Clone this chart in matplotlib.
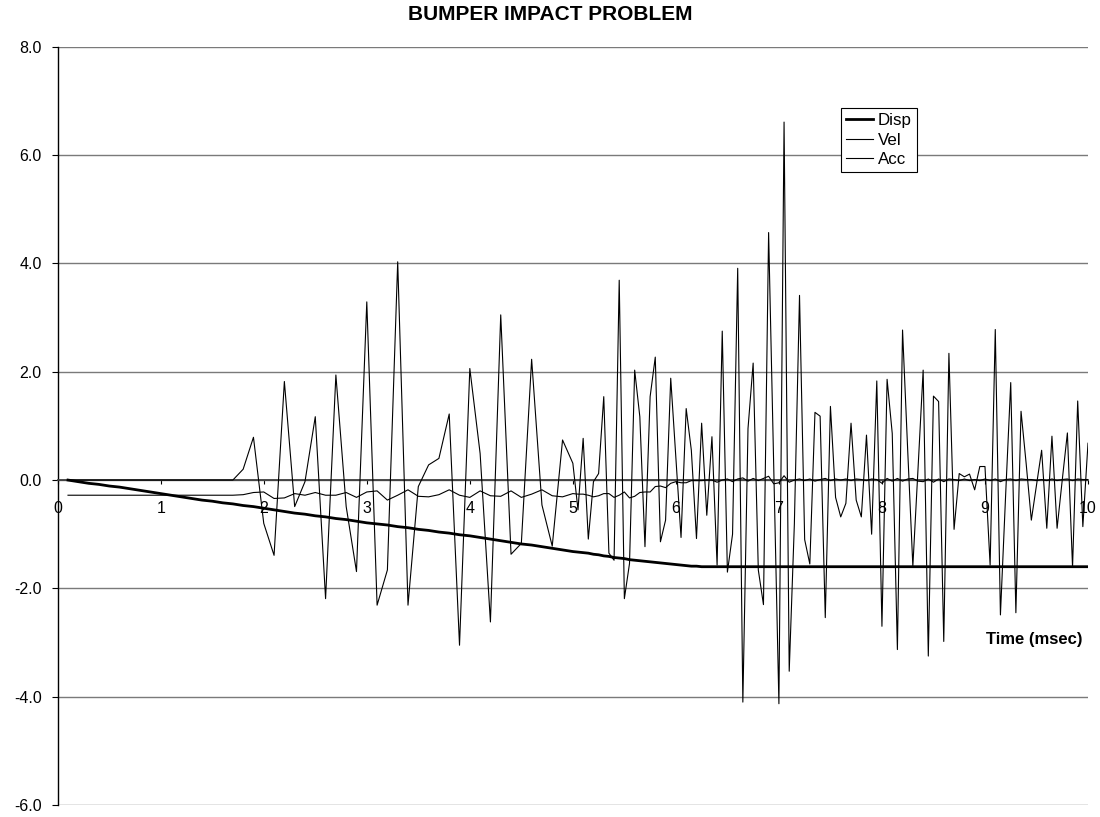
import matplotlib
matplotlib.use('Agg')
import matplotlib.pyplot as plt

plt.rcParams['font.family'] = ['Liberation Sans', 'DejaVu Sans']
plt.rcParams['axes.unicode_minus'] = False

title = 'BUMPER IMPACT PROBLEM'
x_label = 'Time (msec)'
series_names = ['Disp', 'Vel', 'Acc']

x_ticks = [0, 1, 2, 3, 4, 5, 6, 7, 8, 9, 10]
x_tick_labels = ['0', '1', '2', '3', '4', '5', '6', '7', '8', '9', '10']
y_ticks = [-6.0, -4.0, -2.0, 0.0, 2.0, 4.0, 6.0, 8.0]
y_tick_labels = ['-6.0', '-4.0', '-2.0', '0.0', '2.0', '4.0', '6.0', '8.0']

time = [
    0.1, 0.2, 0.3, 0.4, 0.5, 0.6, 0.7, 0.8, 0.9, 1.0,
    1.1, 1.2, 1.3, 1.4, 1.5, 1.6, 1.7,
    1.8, 1.9, 2.0, 2.1, 2.2, 2.3, 2.4, 2.5, 2.6, 2.7,
    2.8, 2.9, 3.0, 3.1, 3.2, 3.3, 3.4, 3.5, 3.6, 3.7,
    3.8, 3.9, 4.0, 4.1, 4.2, 4.3, 4.4, 4.5, 4.6, 4.7,
    4.8, 4.9, 5.0,
    5.05, 5.10, 5.15, 5.20, 5.25, 5.30, 5.35, 5.40, 5.45, 5.50,
    5.55, 5.60, 5.65, 5.70, 5.75, 5.80, 5.85, 5.90, 5.95, 6.00,
    6.05, 6.10, 6.15, 6.20, 6.25, 6.30, 6.35, 6.40, 6.45, 6.50,
    6.55, 6.60, 6.65, 6.70, 6.75, 6.80, 6.85, 6.90, 6.95, 7.00,
    7.05, 7.10, 7.15, 7.20, 7.25, 7.30, 7.35, 7.40, 7.45, 7.50,
    7.55, 7.60, 7.65, 7.70, 7.75, 7.80, 7.85, 7.90, 7.95, 8.00,
    8.05, 8.10, 8.15, 8.20, 8.25, 8.30, 8.35, 8.40, 8.45, 8.50,
    8.55, 8.60, 8.65, 8.70, 8.75, 8.80, 8.85, 8.90, 8.95, 9.00,
    9.05, 9.10, 9.15, 9.20, 9.25, 9.30, 9.35, 9.40, 9.45, 9.50,
    9.55, 9.60, 9.65, 9.70, 9.75, 9.80, 9.85, 9.90, 9.95, 10.00,
]

disp = [
    0.00, -0.03, -0.06, -0.08, -0.11, -0.13, -0.16, -0.19, -0.22, -0.25,
    -0.28, -0.31, -0.34, -0.37, -0.39, -0.42, -0.44,
    -0.47, -0.49, -0.52, -0.55, -0.58, -0.61, -0.63, -0.66, -0.68, -0.71,
    -0.73, -0.76, -0.79, -0.81, -0.83, -0.86, -0.88, -0.91, -0.93, -0.96,
    -0.98, -1.01, -1.03, -1.06, -1.09, -1.12, -1.15, -1.18, -1.20, -1.23,
    -1.26, -1.29, -1.32,
    -1.33, -1.34, -1.35, -1.37, -1.38, -1.40, -1.41, -1.43, -1.44, -1.45,
    -1.47, -1.48, -1.49, -1.50, -1.51, -1.52, -1.53, -1.54, -1.55, -1.56,
    -1.57, -1.58, -1.59, -1.59, -1.60, -1.60, -1.60, -1.60, -1.60, -1.60,
    -1.60, -1.60, -1.60, -1.60, -1.60, -1.60, -1.60, -1.60, -1.60, -1.60,
    -1.60, -1.60, -1.60, -1.60, -1.60, -1.60, -1.60, -1.60, -1.60, -1.60,
    -1.60, -1.60, -1.60, -1.60, -1.60, -1.60, -1.60, -1.60, -1.60, -1.60,
    -1.60, -1.60, -1.60, -1.60, -1.60, -1.60, -1.60, -1.60, -1.60, -1.60,
    -1.60, -1.60, -1.60, -1.60, -1.60, -1.60, -1.60, -1.60, -1.60, -1.60,
    -1.60, -1.60, -1.60, -1.60, -1.60, -1.60, -1.60, -1.60, -1.60, -1.60,
    -1.60, -1.60, -1.60, -1.60, -1.60, -1.60, -1.60, -1.60, -1.60, -1.60,
]

vel = [
    -0.28, -0.28, -0.28, -0.28, -0.28, -0.28, -0.28, -0.28, -0.28, -0.28,
    -0.28, -0.28, -0.28, -0.28, -0.28, -0.28, -0.28,
    -0.27, -0.23, -0.22, -0.34, -0.33, -0.25, -0.28, -0.23, -0.28, -0.28,
    -0.23, -0.32, -0.22, -0.20, -0.37, -0.28, -0.18, -0.30, -0.31, -0.27,
    -0.18, -0.28, -0.32, -0.20, -0.29, -0.30, -0.20, -0.32, -0.26, -0.18,
    -0.29, -0.31, -0.25,
    -0.26, -0.26, -0.28, -0.31, -0.29, -0.25, -0.25, -0.32, -0.28, -0.22,
    -0.33, -0.30, -0.23, -0.22, -0.22, -0.12, -0.11, -0.14, -0.06, -0.03,
    -0.05, -0.05, -0.01, -0.01, -0.01, 0.00, 0.00, -0.04, 0.00, 0.02,
    -0.03, 0.02, 0.04, -0.02, 0.03, -0.01, 0.03, 0.07, -0.07, -0.05,
    0.08, -0.04, 0.00, 0.02, -0.01, 0.02, -0.02, 0.01, 0.03, -0.01,
    0.02, 0.00, 0.02, -0.01, 0.02, 0.01, -0.01, 0.02, 0.01, -0.06,
    0.03, -0.02, 0.03, -0.02, 0.02, 0.03, -0.02, -0.03, 0.02, -0.04,
    0.02, -0.03, 0.02, 0.01, -0.01, 0.02, -0.01, 0.01, -0.01, 0.02,
    -0.01, 0.02, -0.03, 0.01, 0.02, -0.01, 0.02, 0.01, 0.01, -0.01,
    0.01, -0.01, 0.02, -0.01, 0.01, 0.02, -0.01, 0.02, 0.01, 0.01,
]

acc = [
    0.00, 0.00, 0.00, 0.00, 0.00, 0.00, 0.00, 0.00, 0.00, 0.00,
    0.00, 0.00, 0.00, 0.00, 0.00, 0.00, 0.00,
    0.20, 0.79, -0.80, -1.39, 1.82, -0.49, -0.03, 1.17, -2.19, 1.94,
    -0.49, -1.69, 3.29, -2.31, -1.66, 4.03, -2.31, -0.12, 0.28, 0.40,
    1.22, -3.05, 2.06, 0.49, -2.62, 3.05, -1.37, -1.17, 2.23, -0.46,
    -1.22, 0.74, 0.31,
    -0.55, 0.77, -1.09, -0.03, 0.12, 1.54, -1.35, -1.48, 3.69, -2.19,
    -1.54, 2.03, 1.17, -1.23, 1.54, 2.27, -1.14, -0.74, 1.88, 0.40,
    -1.06, 1.32, 0.55, -1.08, 1.05, -0.65, 0.80, -1.57, 2.75, -1.70,
    -1.00, 3.91, -4.10, 0.95, 2.16, -1.66, -2.30, 4.57, 0.20, -4.13,
    6.61, -3.53, -0.81, 3.41, -1.10, -1.55, 1.25, 1.18, -2.54, 1.36,
    -0.32, -0.68, -0.43, 1.05, -0.37, -0.68, 0.83, -1.00, 1.83, -2.70,
    1.86, 0.86, -3.13, 2.77, 0.55, -1.59, 0.20, 2.03, -3.25, 1.55,
    1.45, -2.98, 2.34, -0.91, 0.12, 0.06, 0.11, -0.18, 0.25, 0.25,
    -1.57, 2.78, -2.49, -0.30, 1.80, -2.45, 1.27, 0.30, -0.74, -0.10,
    0.55, -0.89, 0.81, -0.89, 0.00, 0.87, -1.61, 1.46, -0.86, 0.68,
]

fig = plt.figure(figsize=(11.0, 8.17), dpi=100)
W, H = 1100.0, 817.0
left_px, right_px, top_px, bottom_px = 57.7, 1088.0, 46.8, 805.0
ax = fig.add_axes([left_px / W, 1 - bottom_px / H,
                   (right_px - left_px) / W, (bottom_px - top_px) / H])

ax.plot(time, disp, color='black', lw=2.0, label=series_names[0], zorder=3)
ax.plot(time, vel, color='black', lw=0.8, label=series_names[1], zorder=3)
ax.plot(time, acc, color='black', lw=0.8, label=series_names[2], zorder=3)

ax.set_xlim(0, 10)
ax.set_ylim(-6, 8)
ax.set_xticks(x_ticks)
ax.set_xticklabels(x_tick_labels)
ax.set_yticks(y_ticks)
ax.set_yticklabels(y_tick_labels)

ax.grid(axis='y', color='#7a7a7a', lw=1.0)
ax.grid(axis='x', visible=False)
ax.set_axisbelow(True)

for s in ['top', 'right']:
    ax.spines[s].set_visible(False)
ax.spines['bottom'].set_position(('data', 0))
ax.spines['bottom'].set_color('#404040')
ax.spines['bottom'].set_linewidth(1.3)
ax.spines['bottom'].set_zorder(2.5)
ax.spines['left'].set_color('black')
ax.spines['left'].set_linewidth(1.0)

ax.tick_params(axis='x', direction='out', length=3, width=0.8, pad=12,
               labelsize=11.5, colors='black')
ax.tick_params(axis='y', direction='out', length=4, width=0.8, pad=7.5,
               labelsize=11.5, colors='black')

leg = ax.legend(loc='upper left', bbox_to_anchor=(0.760, 0.919),
                borderaxespad=0, fancybox=False, framealpha=1,
                edgecolor='black', fontsize=12.2, handlelength=1.6,
                handletextpad=0.3, labelspacing=0.25, borderpad=0.3)
leg.get_frame().set_linewidth(0.8)
leg.set_zorder(5)

ax.text(9.95, -2.95, x_label, ha='right', va='center', fontsize=12,
        fontweight='bold')

fig.text(0.5, 1 - 15 / H, title, ha='center', va='center', fontsize=15,
         fontweight='bold')

fig.savefig('out.png', dpi=100)
